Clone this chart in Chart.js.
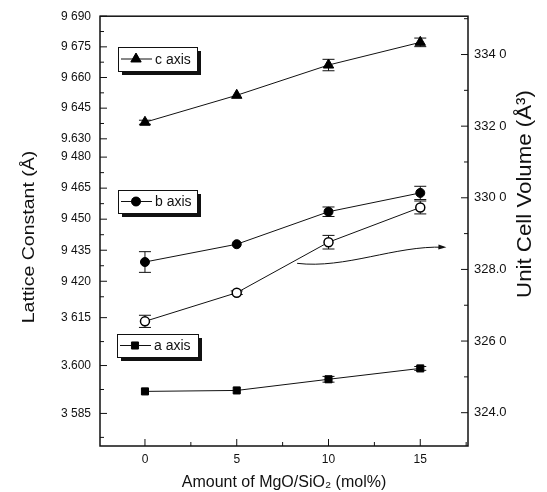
<!DOCTYPE html>
<html>
<head>
<meta charset="utf-8">
<script src="https://cdn.jsdelivr.net/npm/chart.js@4.4.1/dist/chart.umd.min.js"></script>
<style>
html,body{margin:0;padding:0;background:#fff;}
#wrap{width:547px;height:492px;position:relative;}
</style>
</head>
<body>
<div id="wrap"><canvas id="chart"></canvas></div>
<script>
// ---- data ----
const amounts = [0, 5, 10, 15];                       // MgO/SiO2 (mol%)
const cAxis = [9.6381, 9.6513, 9.6661, 9.6772];        // Lattice constant c (Å)
const cErr  = [0.0010, 0, 0.0028, 0.0021];
const bAxis = [9.4293, 9.4379, 9.4536, 9.4627];        // Lattice constant b (Å)
const bErr  = [0.0050, 0, 0.0023, 0.0032];
const aAxis = [3.5919, 3.5922, 3.5957, 3.5991];        // Lattice constant a (Å)
const aErr  = [0, 0, 0.0009, 0.0006];
const cellVolume = [326.55, 327.35, 328.76, 329.73];   // Unit cell volume (Å^3)
const volErr = [0.17, 0.05, 0.19, 0.18];

const legendLabels = ['c axis', 'b axis', 'a axis'];

const xTicks = [0, 5, 10, 15];
const xTickLabels = ['0', '5', '10', '15'];
const topTicks = [9.690, 9.675, 9.660, 9.645, 9.630];
const topTickLabels = ['9 690', '9 675', '9 660', '9 645', '9.630'];
const midTicks = [9.480, 9.465, 9.450, 9.435, 9.420];
const midTickLabels = ['9 480', '9 465', '9 450', '9 435', '9 420'];
const botTicks = [3.615, 3.600, 3.585];
const botTickLabels = ['3 615', '3.600', '3 585'];
const volTicks = [334, 332, 330, 328, 326, 324];
const volTickLabels = ['334 0', '332 0', '330 0', '328.0', '326 0', '324.0'];

const xTitle = 'Amount of MgO/SiO\u2082 (mol%)';
const yLeftTitle = 'Lattice Constant (\u00C5)';
const yRightTitle = 'Unit Cell Volume (\u00C5\u00B3)';

// ---- chart ----
const FONT = "'Liberation Sans', Arial, Helvetica, sans-serif";
const INK = '#111';

function pts(ys) { return amounts.map((x, i) => ({ x: x, y: ys[i] })); }
const errorSets = [cErr, bErr, volErr, aErr];

function fixedTicks(values) {
  return (scale) => { scale.ticks = values.map(v => ({ value: v })); };
}
function tickLabel(labels) {
  return (v, i) => labels[i];
}
function yScale(opts) {
  return Object.assign({
    type: 'linear',
    grid: { display: false, drawTicks: false },
    border: { display: false },
    ticks: { autoSkip: false, padding: 9, color: INK, font: { family: FONT, size: 12 } }
  }, opts);
}

const decor = {
  id: 'decor',
  beforeDatasetsDraw(chart) {
    const ctx = chart.ctx;
    const xs = chart.scales.x;
    ctx.save();
    ctx.strokeStyle = INK;
    ctx.lineWidth = 1;
    chart.data.datasets.forEach((ds, di) => {
      const errs = errorSets[di];
      const ys = chart.scales[ds.yAxisID];
      ds.data.forEach((p, j) => {
        const e = errs[j];
        if (!e) return;
        const px = xs.getPixelForValue(p.x);
        const y1 = ys.getPixelForValue(p.y + e);
        const y2 = ys.getPixelForValue(p.y - e);
        ctx.beginPath();
        ctx.moveTo(px, y1); ctx.lineTo(px, y2);
        ctx.moveTo(px - 6, y1); ctx.lineTo(px + 6, y1);
        ctx.moveTo(px - 6, y2); ctx.lineTo(px + 6, y2);
        ctx.stroke();
      });
    });
    ctx.restore();
  },
  afterDatasetsDraw(chart) {
    const ctx = chart.ctx;
    const a = chart.chartArea;
    ctx.save();
    // frame
    ctx.strokeStyle = INK;
    ctx.lineWidth = 1.5;
    ctx.strokeRect(a.left, a.top, a.right - a.left, a.bottom - a.top);

    // inward ticks (major + minor)
    ctx.lineWidth = 1;
    const drawTicks = (scale, side) => {
      const majors = scale.ticks.map(t => t.value);
      const step = Math.abs(majors[1] - majors[0]);
      const minors = [];
      const sorted = majors.slice().sort((p, q) => p - q);
      const cand = [sorted[0] - step / 2];
      sorted.forEach(v => cand.push(v + step / 2));
      cand.forEach(v => { if (v > scale.min + 1e-9 && v < scale.max - 1e-9) minors.push(v); });
      const one = (v, len) => {
        const p = scale.getPixelForValue(v);
        ctx.beginPath();
        if (side === 'left') { ctx.moveTo(a.left, p); ctx.lineTo(a.left + len, p); }
        else if (side === 'right') { ctx.moveTo(a.right, p); ctx.lineTo(a.right - len, p); }
        else { ctx.moveTo(p, a.bottom); ctx.lineTo(p, a.bottom - len); }
        ctx.stroke();
      };
      majors.forEach(v => one(v, 7));
      minors.forEach(v => one(v, 4));
    };
    drawTicks(chart.scales.yTop, 'left');
    drawTicks(chart.scales.yMid, 'left');
    drawTicks(chart.scales.yBot, 'left');
    drawTicks(chart.scales.yVol, 'right');
    drawTicks(chart.scales.x, 'bottom');

    // legend boxes
    const boxes = chart.options.plugins.decor.boxes;
    boxes.forEach(b => {
      const ds = chart.data.datasets[b.dataset];
      ctx.fillStyle = INK;
      ctx.fillRect(b.x + 4, b.y + 4, b.w, b.h);
      ctx.fillStyle = '#fff';
      ctx.fillRect(b.x, b.y, b.w, b.h);
      ctx.strokeStyle = INK;
      ctx.lineWidth = 1;
      ctx.strokeRect(b.x + 0.5, b.y + 0.5, b.w, b.h);
      const cy = b.y + b.h / 2;
      ctx.beginPath();
      ctx.moveTo(b.x + 3, cy); ctx.lineTo(b.x + 34, cy);
      ctx.stroke();
      ctx.fillStyle = '#000';
      Chart.helpers.drawPoint(ctx, {
        pointStyle: ds.pointStyle, radius: ds.pointRadius, borderWidth: 1, rotation: 0
      }, b.x + 18, cy);
      ctx.fill();
      ctx.fillStyle = INK;
      ctx.font = '14px ' + FONT;
      ctx.textAlign = 'left';
      ctx.textBaseline = 'middle';
      ctx.fillText(ds.label, b.x + 37, cy + 1);
    });

    // arrow from the open-circle curve toward the right axis
    const ar = chart.options.plugins.decor.arrow;
    const xs = chart.scales.x, vs = chart.scales.yVol;
    const P = q => [xs.getPixelForValue(q[0]), vs.getPixelForValue(q[1])];
    const p0 = P(ar.from), c1 = P(ar.c1), c2 = P(ar.c2), p3 = P(ar.to);
    ctx.strokeStyle = INK;
    ctx.lineWidth = 1;
    ctx.beginPath();
    ctx.moveTo(p0[0], p0[1]);
    ctx.bezierCurveTo(c1[0], c1[1], c2[0], c2[1], p3[0], p3[1]);
    ctx.stroke();
    const ang = Math.atan2(p3[1] - c2[1], p3[0] - c2[0]);
    ctx.save();
    ctx.translate(p3[0], p3[1]);
    ctx.rotate(ang);
    ctx.fillStyle = INK;
    ctx.beginPath();
    ctx.moveTo(3, 0); ctx.lineTo(-5, -2.5); ctx.lineTo(-5, 2.5); ctx.closePath();
    ctx.fill();
    ctx.restore();

    // vertical axis titles
    const t = chart.options.plugins.decor.titles;
    t.forEach(tt => {
      ctx.save();
      ctx.translate(tt.x, tt.y);
      ctx.rotate(-Math.PI / 2);
      ctx.scale(tt.stretch, 1);
      ctx.fillStyle = INK;
      ctx.font = tt.size + 'px ' + FONT;
      ctx.textAlign = 'center';
      ctx.textBaseline = 'middle';
      ctx.fillText(tt.text, 0, 0);
      ctx.restore();
    });
    ctx.restore();
  }
};

const common = { borderColor: INK, borderWidth: 1, pointBorderColor: '#000', pointBackgroundColor: '#000',
  pointBorderWidth: 1, tension: 0, fill: false, pointHoverRadius: 0 };

new Chart(document.getElementById('chart'), {
  type: 'line',
  data: {
    datasets: [
      Object.assign({ label: legendLabels[0], data: pts(cAxis), yAxisID: 'yTop', pointStyle: 'triangle', pointRadius: 6 }, common),
      Object.assign({ label: legendLabels[1], data: pts(bAxis), yAxisID: 'yMid', pointStyle: 'circle', pointRadius: 4.5 }, common),
      Object.assign({}, common, { label: 'Unit cell volume', data: pts(cellVolume), yAxisID: 'yVol', pointStyle: 'circle', pointRadius: 4.5,
        pointBackgroundColor: '#fff', pointBorderWidth: 1.5 }),
      Object.assign({ label: legendLabels[2], data: pts(aAxis), yAxisID: 'yBot', pointStyle: 'rect', pointRadius: 5 }, common)
    ]
  },
  options: {
    responsive: true,
    maintainAspectRatio: false,
    animation: false,
    events: [],
    layout: { padding: { top: 13, left: 0, right: 0, bottom: 0 } },
    plugins: {
      legend: { display: false },
      tooltip: { enabled: false },
      decor: {
        boxes: [
          { dataset: 0, x: 118, y: 47, w: 79, h: 24 },
          { dataset: 1, x: 118, y: 190, w: 79, h: 23 },
          { dataset: 3, x: 117, y: 334, w: 81, h: 23 }
        ],
        arrow: { from: [8.29, 328.17], c1: [10.91, 328.01], c2: [13.64, 328.67], to: [16.26, 328.62] },
        titles: [
          { text: yLeftTitle, x: 30, y: 237, size: 16, stretch: 1.22 },
          { text: yRightTitle, x: 525, y: 194, size: 21, stretch: 1.06 }
        ]
      }
    },
    scales: {
      x: {
        type: 'linear', position: 'bottom', min: -2.45, max: 17.6,
        afterBuildTicks: fixedTicks(xTicks),
        afterFit: s => { s.height = 46; },
        grid: { display: false, drawTicks: false },
        border: { display: false },
        ticks: { autoSkip: false, padding: 6, color: INK, font: { family: FONT, size: 12 }, callback: tickLabel(xTickLabels) },
        title: { display: true, text: xTitle, color: INK, font: { family: FONT, size: 16 }, padding: { top: 0, bottom: 0 } }
      },
      yTop: yScale({ position: 'left', stack: 'lattice', stackWeight: 133, weight: 3, min: 9.6254, max: 9.690,
        afterBuildTicks: fixedTicks(topTicks), afterFit: s => { s.width = 100; },
        ticks: { autoSkip: false, padding: 9, color: INK, font: { family: FONT, size: 12 }, callback: tickLabel(topTickLabels) } }),
      yMid: yScale({ position: 'left', stack: 'lattice', stackWeight: 153, weight: 2, min: 9.4109, max: 9.4843,
        afterBuildTicks: fixedTicks(midTicks), afterFit: s => { s.width = 100; },
        ticks: { autoSkip: false, padding: 9, color: INK, font: { family: FONT, size: 12 }, callback: tickLabel(midTickLabels) } }),
      yBot: yScale({ position: 'left', stack: 'lattice', stackWeight: 147, weight: 1, min: 3.5748, max: 3.6205,
        afterBuildTicks: fixedTicks(botTicks), afterFit: s => { s.width = 100; },
        ticks: { autoSkip: false, padding: 9, color: INK, font: { family: FONT, size: 12 }, callback: tickLabel(botTickLabels) } }),
      yVol: yScale({ position: 'right', min: 323.07, max: 335.07,
        afterBuildTicks: fixedTicks(volTicks), afterFit: s => { s.width = 79; },
        ticks: { autoSkip: false, padding: 6, color: INK, font: { family: FONT, size: 13 }, callback: tickLabel(volTickLabels) } })
    }
  },
  plugins: [decor]
});
</script>
</body>
</html>
